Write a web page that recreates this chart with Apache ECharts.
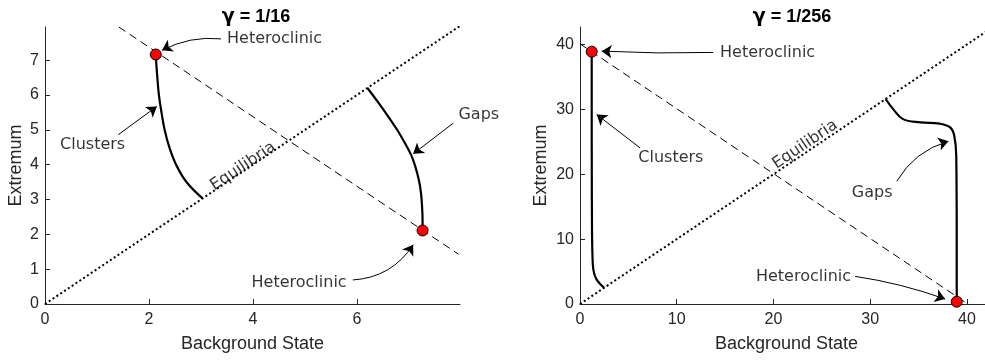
<!DOCTYPE html>
<html lang="en">
<head>
<meta charset="UTF-8">
<title>Heteroclinic</title>
<style>
  html, body { margin: 0; padding: 0; background: #fff; }
  #chart { width: 985px; height: 362px; }
</style>
</head>
<body>
<div id="chart"></div>
<script src="https://cdn.jsdelivr.net/npm/echarts@6/dist/echarts.min.js"></script>
<script>
// ---- data ----
const titles = ['1/16', '1/256']
const ticksLeftX = [0, 2, 4, 6]
const ticksLeftY = [0, 1, 2, 3, 4, 5, 6, 7]
const ticksRight = [0, 10, 20, 30, 40]

// gamma = 1/16
const equilibriaLeft = [[0, 0], [7.98, 7.98]]
const diagonalLeft = [[1.42, 7.95], [7.95, 1.43]]
const clustersLeft = [[2.13, 7.16], [2.14, 6.9], [2.16, 6.5], [2.19, 6.0], [2.24, 5.5], [2.3, 5.0], [2.39, 4.5], [2.52, 4.0], [2.72, 3.5], [3.03, 3.03]]
const gapsLeft = [[6.2, 6.2], [6.4, 5.8], [6.6, 5.38], [6.78, 4.98], [6.92, 4.62], [7.04, 4.28], [7.12, 3.95], [7.19, 3.55], [7.23, 3.18], [7.25, 2.8], [7.26, 2.41], [7.26, 2.11]]
const heteroLeft = [[2.13, 7.16], [7.26, 2.11]]

// gamma = 1/256
const equilibriaRight = [[0, 0], [42.7, 42.7]]
const diagonalRight = [[0, 40.1], [40, 0.1]]
const clustersRight = [[1.21, 38.9], [1.21, 30], [1.22, 20], [1.24, 12], [1.28, 8], [1.38, 5.3], [1.72, 3.75], [2.5, 2.5]]
const gapsRight = [[31.6, 31.6], [32.4, 30.0], [33.4, 28.5], [35.2, 28.0], [37.2, 27.8], [38.3, 27.2], [38.7, 25.9], [38.9, 22.8], [38.95, 10], [38.95, 0.35]]
const heteroRight = [[1.21, 38.9], [38.95, 0.35]]

// annotations (data coordinates)
const notesLeft = [
  { text: 'Heteroclinic', at: [3.5, 7.61], align: 'left' },
  { text: 'Clusters', at: [0.29, 4.57], align: 'left' },
  { text: 'Gaps', at: [7.95, 5.43], align: 'left' },
  { text: 'Equilibria', at: [3.81, 3.95], align: 'center', rotate: 33.7 },
  { text: 'Heteroclinic', at: [5.80, 0.62], align: 'right' }
]
const arrowsLeft = [
  { from: [3.385, 7.61], to: [2.25, 7.28], curve: -0.15 },
  { from: [1.41, 4.86], to: [2.15, 5.67], curve: 0 },
  { from: [7.85, 5.19], to: [7.08, 4.31], curve: 0 },
  { from: [5.92, 0.69], to: [7.08, 1.70], curve: -0.25 }
]
const notesRight = [
  { text: 'Heteroclinic', at: [14.48, 38.73], align: 'left' },
  { text: 'Clusters', at: [6.03, 22.53], align: 'left' },
  { text: 'Gaps', at: [28.1, 17.13], align: 'left' },
  { text: 'Equilibria', at: [23.27, 24.58], align: 'center', rotate: 34 },
  { text: 'Heteroclinic', at: [28.02, 4.26], align: 'right' }
]
const arrowsRight = [
  { from: [13.78, 38.78], to: [2.24, 38.98], curve: 0.02 },
  { from: [6.2, 24.07], to: [1.73, 29.21], curve: 0 },
  { from: [32.75, 18.92], to: [38.09, 25.09], curve: 0.2 },
  { from: [28.44, 4.26], to: [37.75, 0.77], curve: 0.05 }
]

const ink = '#262626'
const axisFont = 'Liberation Sans, Arial, sans-serif'
const noteFont = 'DejaVu Sans, sans-serif'

function valueAxis(max, ticks, isX, name, gap) {
  return {
    type: 'value', min: 0, max: max,
    name: name, nameLocation: 'middle', nameGap: gap,
    nameTextStyle: { color: ink, fontSize: 18, fontFamily: axisFont },
    axisLine: { show: true, lineStyle: { color: ink, width: 1 } },
    axisTick: { show: true, inside: true, length: 5, lineStyle: { color: ink }, customValues: ticks },
    axisLabel: { color: ink, fontSize: 16, fontFamily: axisFont, margin: isX ? 8 : 6, customValues: ticks },
    splitLine: { show: false }
  }
}

function panel(idx, eq, diag, clusters, gaps, hetero, notes, arrows) {
  const ax = { xAxisIndex: idx, yAxisIndex: idx }
  return [
    Object.assign({ type: 'line', data: eq, symbol: 'none', lineStyle: { color: '#000', width: 2, type: [2, 2.6] } }, ax),
    Object.assign({ type: 'line', data: diag, symbol: 'none', lineStyle: { color: '#000', width: 1, type: [8, 5] } }, ax),
    Object.assign({ type: 'line', data: clusters, symbol: 'none', smooth: 0.4, lineStyle: { color: '#000', width: 2.2 } }, ax),
    Object.assign({ type: 'line', data: gaps, symbol: 'none', smooth: 0.4, lineStyle: { color: '#000', width: 2.2 } }, ax),
    Object.assign({
      type: 'lines', coordinateSystem: 'cartesian2d', symbol: ['none', 'arrow'], symbolSize: 10,
      lineStyle: { color: '#000', width: 1, opacity: 1 },
      data: arrows.map(a => ({ coords: [a.from, a.to], lineStyle: { curveness: a.curve } })),
      z: 4
    }, ax),
    Object.assign({
      type: 'scatter', data: hetero, symbol: 'circle', symbolSize: 11,
      itemStyle: { color: '#ff0000', borderColor: '#000', borderWidth: 1, opacity: 1 }, z: 5
    }, ax),
    Object.assign({
      type: 'scatter', symbolSize: 0, clip: false, z: 6,
      data: notes.map(n => ({
        value: n.at, name: n.text,
        label: {
          show: true, position: 'inside', formatter: n.text, align: n.align, verticalAlign: 'middle',
          rotate: n.rotate || 0, color: '#000', fontSize: 16, fontFamily: noteFont, textBorderWidth: 0
        }
      }))
    }, ax)
  ]
}

const chart = echarts.init(document.getElementById('chart'), null, { renderer: 'canvas' })

const titleStyle = {
  fontSize: 18, fontWeight: 'bold', fontFamily: axisFont, color: '#000',
  rich: { g: { fontSize: 19, fontWeight: 'bold', fontFamily: 'DejaVu Sans', color: '#000' } }
}

chart.setOption({
  animation: false,
  backgroundColor: '#fff',
  title: [
    { text: '{g|γ} = ' + titles[0], left: 251, top: 3, textAlign: 'center', textStyle: titleStyle },
    { text: '{g|γ} = ' + titles[1], left: 787, top: 3, textAlign: 'center', textStyle: titleStyle }
  ],
  grid: [
    { left: 45, right: 525, top: 27, bottom: 58, outerBoundsMode: 'none' },
    { left: 580, right: -8, top: 27, bottom: 58, outerBoundsMode: 'none' }
  ],
  xAxis: [
    Object.assign(valueAxis(7.98, ticksLeftX, true, 'Background State', 31), { gridIndex: 0 }),
    Object.assign(valueAxis(42.7, ticksRight, true, 'Background State', 31), { gridIndex: 1 })
  ],
  yAxis: [
    Object.assign(valueAxis(7.95, ticksLeftY, false, 'Extremum', 20), { gridIndex: 0 }),
    Object.assign(valueAxis(42.7, ticksRight, false, 'Extremum', 30), { gridIndex: 1 })
  ],
  series: [].concat(
    panel(0, equilibriaLeft, diagonalLeft, clustersLeft, gapsLeft, heteroLeft, notesLeft, arrowsLeft),
    panel(1, equilibriaRight, diagonalRight, clustersRight, gapsRight, heteroRight, notesRight, arrowsRight)
  )
})
</script>
</body>
</html>
